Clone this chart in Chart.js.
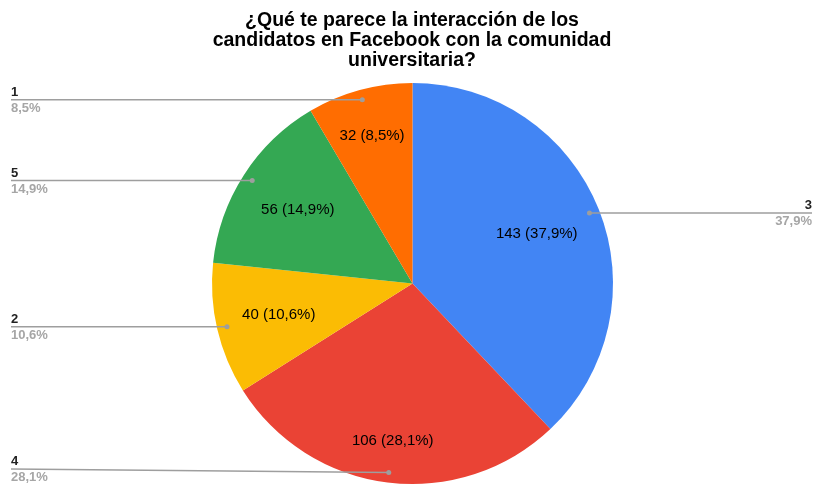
<!DOCTYPE html>
<html>
<head>
<meta charset="utf-8">
<script src="https://cdn.jsdelivr.net/npm/chart.js@4/dist/chart.umd.min.js"></script>
<style>
  html, body { margin: 0; padding: 0; background: #fff; }
  #wrap { width: 814px; height: 487px; position: relative; }
</style>
</head>
<body>
<div id="wrap"><canvas id="myChart"></canvas></div>
<script>
const titleLines = [
  "¿Qué te parece la interacción de los",
  "candidatos en Facebook con la comunidad",
  "universitaria?"
];
const categories = ["3", "4", "2", "5", "1"];
const counts = [143, 106, 40, 56, 32];
const sliceColors = ["#4285F4", "#EA4335", "#FBBC04", "#34A853", "#FF6D01"];

const FONT = "Arial, 'Liberation Sans', sans-serif";
const total = counts.reduce((a, b) => a + b, 0);
const pct = (v) => (v / total * 100).toFixed(1).replace(".", ",") + "%";

// how far out (fraction of radius) the inside labels sit
const insideR = [0.667, 0.79, 0.685, 0.68, 0.765];

const labelsPlugin = {
  id: "sheetLabels",
  afterDraw(chart) {
    const ctx = chart.ctx;
    const meta = chart.getDatasetMeta(0);
    const W = chart.width, H = chart.height;

    // title
    ctx.save();
    ctx.fillStyle = "#000";
    ctx.font = "bold 19.5px " + FONT;
    ctx.textAlign = "center";
    ctx.textBaseline = "alphabetic";
    titleLines.forEach((t, i) => ctx.fillText(t, 412, 26 + i * 20));
    ctx.restore();

    meta.data.forEach((arc, i) => {
      const mid = (arc.startAngle + arc.endAngle) / 2;
      const r = arc.outerRadius;
      const cx = arc.x, cy = arc.y;

      // value inside the slice
      ctx.save();
      ctx.fillStyle = "#000";
      ctx.font = "15px " + FONT;
      ctx.textAlign = "center";
      ctx.textBaseline = "middle";
      ctx.fillText(counts[i] + " (" + pct(counts[i]) + ")",
        cx + Math.cos(mid) * r * insideR[i], cy + Math.sin(mid) * r * insideR[i]);
      ctx.restore();

      // leader line + outside label
      const dx = cx + Math.cos(mid) * r * 0.95;
      const dy = cy + Math.sin(mid) * r * 0.95;
      const right = Math.cos(mid) > 0;
      const ly = Math.min(dy, H - 18);
      const ex = right ? W - 2 : 11;

      ctx.save();
      ctx.strokeStyle = "#9e9e9e";
      ctx.lineWidth = 1.5;
      ctx.beginPath();
      ctx.moveTo(ex, ly);
      ctx.lineTo(dx, dy);
      ctx.stroke();
      ctx.fillStyle = "#9e9e9e";
      ctx.beginPath();
      ctx.arc(dx, dy, 2.5, 0, Math.PI * 2);
      ctx.fill();

      ctx.textAlign = right ? "right" : "left";
      ctx.textBaseline = "middle";
      ctx.font = "bold 13px " + FONT;
      ctx.fillStyle = "#222";
      ctx.fillText(categories[i], ex, ly - 7.5);
      ctx.fillStyle = "#a6a6a6";
      ctx.fillText(pct(counts[i]), ex, ly + 8.5);
      ctx.restore();
    });
  }
};

const ctx = document.getElementById("myChart");
new Chart(ctx, {
  type: "pie",
  data: {
    labels: categories,
    datasets: [{
      data: counts,
      backgroundColor: sliceColors,
      borderWidth: 0
    }]
  },
  options: {
    responsive: true,
    maintainAspectRatio: false,
    animation: false,
    layout: { padding: { left: 212, right: 201, top: 83, bottom: 3 } },
    plugins: {
      legend: { display: false },
      title: { display: false },
      tooltip: { enabled: false }
    }
  },
  plugins: [labelsPlugin]
});
</script>
</body>
</html>
